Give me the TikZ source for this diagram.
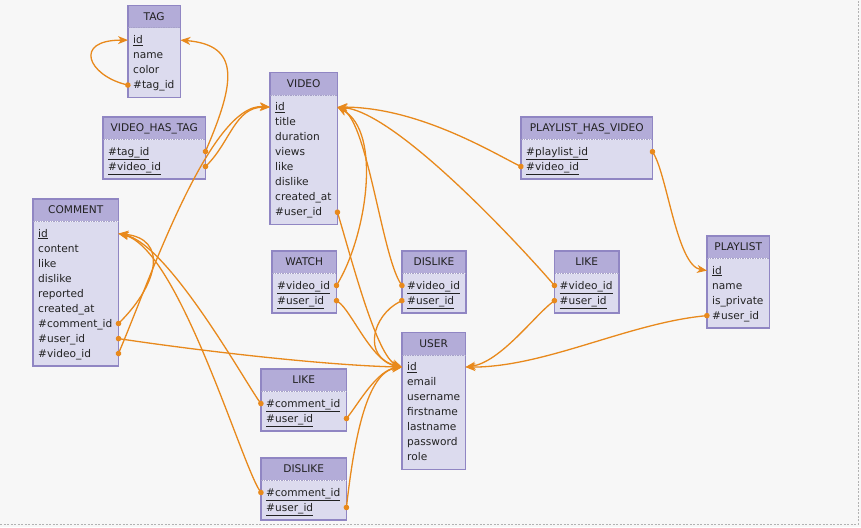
\documentclass[tikz,border=0pt]{standalone}
\usepackage{fontspec}
\setmainfont{DejaVu Sans}
\usetikzlibrary{arrows.meta,calc}

\definecolor{pagebg}{HTML}{F7F7F7}
\definecolor{headfill}{HTML}{B3ACD8}
\definecolor{bodyfill}{HTML}{DCDBEE}
\definecolor{tblline}{HTML}{9086C3}
\definecolor{sepline}{HTML}{A7A2C9}
\definecolor{fkline}{HTML}{E8891C}
\definecolor{txt}{HTML}{222222}

\tikzset{
  tblfont/.style={font=\fontsize{10.6}{12}\selectfont, text=txt},
  tblhead/.style={tblfont, fill=headfill, inner sep=0pt, minimum height=22pt,
    text height=8.5pt, text depth=1.5pt},
  tblbody/.style={fill=bodyfill, inner sep=0pt},
  tblrow/.style={tblfont, inner xsep=5pt, inner ysep=0pt, minimum height=15pt,
    text height=8.5pt, text depth=1.5pt, align=left},
  tblframe/.style={draw=tblline, line width=1.4pt},
  tblsep/.style={draw=sepline, line width=0.8pt, dash pattern=on 1.5pt off 1pt},
  fk/.style={draw=fkline, line width=1.3pt, shorten <=-2.6pt,
    {Circle[length=5.5pt,width=5.5pt]}-{Stealth[length=10pt,width=8pt,inset=3pt]}},
}

% \erdtable{name}{x}{y}{width}{title}{fields}
\newcommand{\erdtable}[6]{%
  \node[tblhead, minimum width=#4, anchor=north west] (#1) at (#2,#3) {#5};
  \foreach \fld [count=\k] in {#6} {\xdef\nfld{\k}}
  \node[tblbody, minimum width=#4, minimum height={(9+15*\nfld)*1pt},
    anchor=north west] (#1-body) at (#1.south west) {};
  \pgfmathsetlengthmacro{\fldw}{#4-10}
  \foreach \fld [count=\k] in {#6}
    \node[tblrow, text width=\fldw, anchor=north west] (#1-\k)
      at ([yshift={-4.5pt-15pt*(\k-1)}]#1-body.north west) {\fld};
  \draw[tblframe] (#1.north west) rectangle (#1-body.south east);
  \draw[tblsep] (#1-body.north west) -- (#1-body.north east);
}

\begin{document}
\begin{tikzpicture}[x=1pt,y=-1pt]

  % Page
  \fill[pagebg] (0,0) rectangle (861,527);
  \useasboundingbox (0,0) rectangle (861,527);
  \draw[gray!60, line width=0.6pt, dash pattern=on 2pt off 1.5pt]
    (0,524) -- (858,524) -- (858,0);

  % Tables
  \erdtable{tag}{128}{5.5}{52}{TAG}%
    {\underline{id}, name, color, \#tag\_id}
  \erdtable{vht}{103}{117}{102}{VIDEO\_HAS\_TAG}%
    {\underline{\#tag\_id}, \underline{\#video\_id}}
  \erdtable{video}{270}{72.5}{67}{VIDEO}%
    {\underline{id}, title, duration, views, like, dislike, created\_at, \#user\_id}
  \erdtable{comment}{33}{199}{85}{COMMENT}%
    {\underline{id}, content, like, dislike, reported, created\_at,
     \#comment\_id, \#user\_id, \#video\_id}
  \erdtable{watch}{272}{251}{64}{WATCH}%
    {\underline{\#video\_id}, \underline{\#user\_id}}
  \erdtable{vdislike}{402}{251}{63.5}{DISLIKE}%
    {\underline{\#video\_id}, \underline{\#user\_id}}
  \erdtable{vlike}{554.5}{251}{64}{LIKE}%
    {\underline{\#video\_id}, \underline{\#user\_id}}
  \erdtable{phv}{521}{117}{131}{PLAYLIST\_HAS\_VIDEO}%
    {\underline{\#playlist\_id}, \underline{\#video\_id}}
  \erdtable{playlist}{707}{236}{62}{PLAYLIST}%
    {\underline{id}, name, is\_private, \#user\_id}
  \erdtable{user}{402}{332.5}{63}{USER}%
    {\underline{id}, email, username, firstname, lastname, password, role}
  \erdtable{clike}{261}{369}{85}{LIKE}%
    {\underline{\#comment\_id}, \underline{\#user\_id}}
  \erdtable{cdislike}{261}{458}{85}{DISLIKE}%
    {\underline{\#comment\_id}, \underline{\#user\_id}}

  % Foreign keys -> TAG / VIDEO
  \draw[fk] (tag-4.west) .. controls +(-40,-10) and +(-55,0) .. (tag-1.west);
  \draw[fk] (vht-1.east) .. controls +(30,-70) and +(60,5) .. (tag-1.east);
  \draw[fk] (vht-2.east) .. controls +(25,-25) and +(-35,0) .. (video-1.west);
  \draw[fk] (comment-9.east) .. controls +(30,-70) and +(-60,-5) .. (video-1.west);
  \draw[fk] (watch-1.east) .. controls +(30,-50) and +(45,25) .. (video-1.east);
  \draw[fk] (vdislike-1.west) .. controls +(-20,-30) and +(30,15) .. (video-1.east);
  \draw[fk] (vlike-1.west) .. controls +(-30,-35) and +(60,5) .. (video-1.east);
  \draw[fk] (phv-2.west) .. controls +(-30,-15) and +(80,0) .. (video-1.east);

  % Foreign keys -> PLAYLIST / COMMENT
  \draw[fk] (phv-1.east) .. controls +(15,25) and +(-30,-5) .. (playlist-1.west);
  \draw[fk] (comment-7.east) .. controls +(40,-40) and +(50,5) .. (comment-1.east);
  \draw[fk] (clike-1.west) .. controls +(-15,-20) and +(50,10) .. (comment-1.east);
  \draw[fk] (cdislike-1.west) .. controls +(-20,-30) and +(60,15) .. (comment-1.east);

  % Foreign keys -> USER
  \draw[fk] (video-8.east) .. controls +(15,50) and +(-25,-10) .. (user-1.west);
  \draw[fk] (watch-2.east) .. controls +(15,10) and +(-30,-5) .. (user-1.west);
  \draw[fk] (vdislike-2.west) .. controls +(-30,15) and +(-40,-10) .. (user-1.west);
  \draw[fk] (comment-8.east) .. controls +(80,12) and +(-80,-2) .. (user-1.west);
  \draw[fk] (clike-2.east) .. controls +(12,-15) and +(-25,3) .. (user-1.west);
  \draw[fk] (cdislike-2.east) .. controls +(8,-70) and +(-35,5) .. (user-1.west);
  \draw[fk] (vlike-2.west) .. controls +(-20,15) and +(35,-5) .. (user-1.east);
  \draw[fk] (playlist-4.west) .. controls +(-80,8) and +(80,0) .. (user-1.east);

\end{tikzpicture}
\end{document}
